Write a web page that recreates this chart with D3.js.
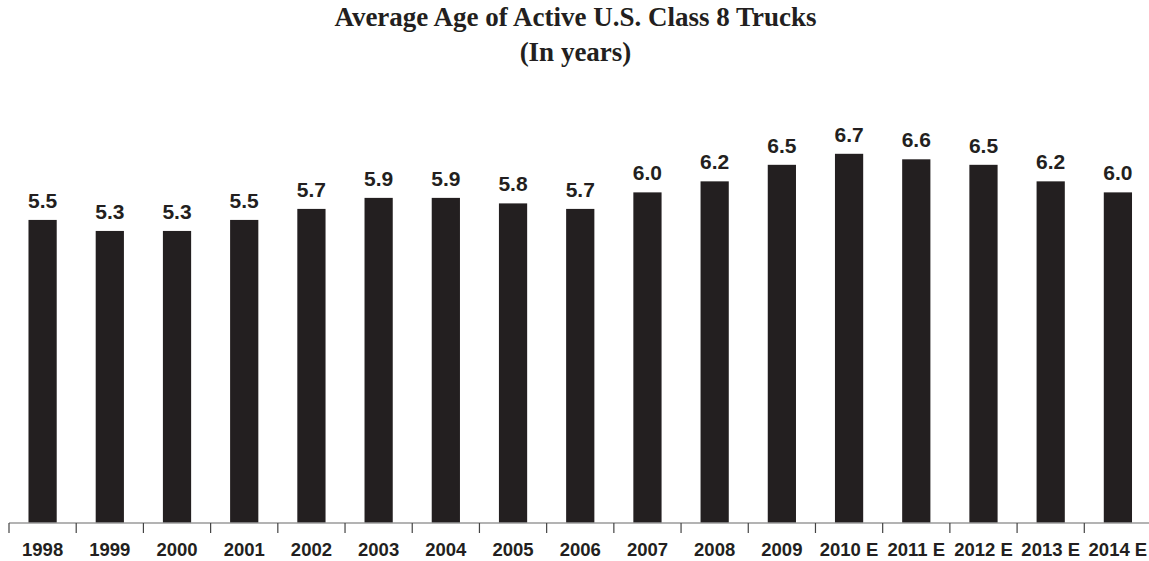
<!DOCTYPE html>
<html>
<head>
<meta charset="utf-8">
<script src="https://cdn.jsdelivr.net/npm/d3@7"></script>
<style>
  body { margin: 0; background: #fff; }
</style>
</head>
<body>
<div id="chart"></div>
<script>
// data
var years = ["1998", "1999", "2000", "2001", "2002", "2003", "2004", "2005", "2006",
             "2007", "2008", "2009", "2010 E", "2011 E", "2012 E", "2013 E", "2014 E"];
var avgAge = [5.5, 5.3, 5.3, 5.5, 5.7, 5.9, 5.9, 5.8, 5.7, 6.0, 6.2, 6.5, 6.7, 6.6, 6.5, 6.2, 6.0];
var titleLines = ["Average Age of Active U.S. Class 8 Trucks", "(In years)"];

var svgWidth = 1149;
var svgHeight = 561;
var baseY = 523;

var svg = d3.select("#chart").append("svg")
    .attr("width", svgWidth)
    .attr("height", svgHeight);

// scales
var xscale = d3.scaleBand().domain(years).range([9, 1151.5]).padding(0);
var yscale = d3.scaleLinear().domain([0, 6.7]).range([baseY, 153.8]);
var barW = xscale.bandwidth() * 0.42;

// title
svg.append("g").selectAll("text")
    .data(titleLines)
    .enter()
    .append("text")
    .attr("x", 575.5)
    .attr("y", (d, i) => 26 + i * 35)
    .attr("text-anchor", "middle")
    .style("font", "bold 27px 'Liberation Serif', 'Times New Roman', serif")
    .attr("fill", "#231f20")
    .text(d => d);

// bars
svg.append("g").selectAll("rect")
    .data(avgAge)
    .enter()
    .append("rect")
    .attr("x", (d, i) => xscale(years[i]) + xscale.bandwidth() / 2 - barW / 2)
    .attr("y", d => yscale(d))
    .attr("width", barW)
    .attr("height", d => baseY - yscale(d))
    .attr("fill", "#231f20");

// value labels
svg.append("g").selectAll("text")
    .data(avgAge)
    .enter()
    .append("text")
    .attr("x", (d, i) => xscale(years[i]) + xscale.bandwidth() / 2)
    .attr("y", d => yscale(d) - 12)
    .attr("text-anchor", "middle")
    .style("font", "bold 21px 'Liberation Sans', Arial, sans-serif")
    .attr("fill", "#231f20")
    .text(d => d.toFixed(1));

// axis line + ticks at category boundaries
svg.append("line")
    .attr("x1", 9).attr("x2", svgWidth)
    .attr("y1", baseY).attr("y2", baseY)
    .attr("stroke", "#9a9a9a")
    .attr("stroke-width", 1.5);

svg.append("g").selectAll("line")
    .data(years)
    .enter()
    .append("line")
    .attr("x1", d => xscale(d)).attr("x2", d => xscale(d))
    .attr("y1", baseY).attr("y2", 533)
    .attr("stroke", "#444")
    .attr("stroke-width", 1.2);

// category labels
svg.append("g").selectAll("text")
    .data(years)
    .enter()
    .append("text")
    .attr("x", d => xscale(d) + xscale.bandwidth() / 2)
    .attr("y", 556)
    .attr("text-anchor", "middle")
    .style("font", "bold 18.5px 'Liberation Sans', Arial, sans-serif")
    .attr("fill", "#231f20")
    .text(d => d);
</script>
</body>
</html>
